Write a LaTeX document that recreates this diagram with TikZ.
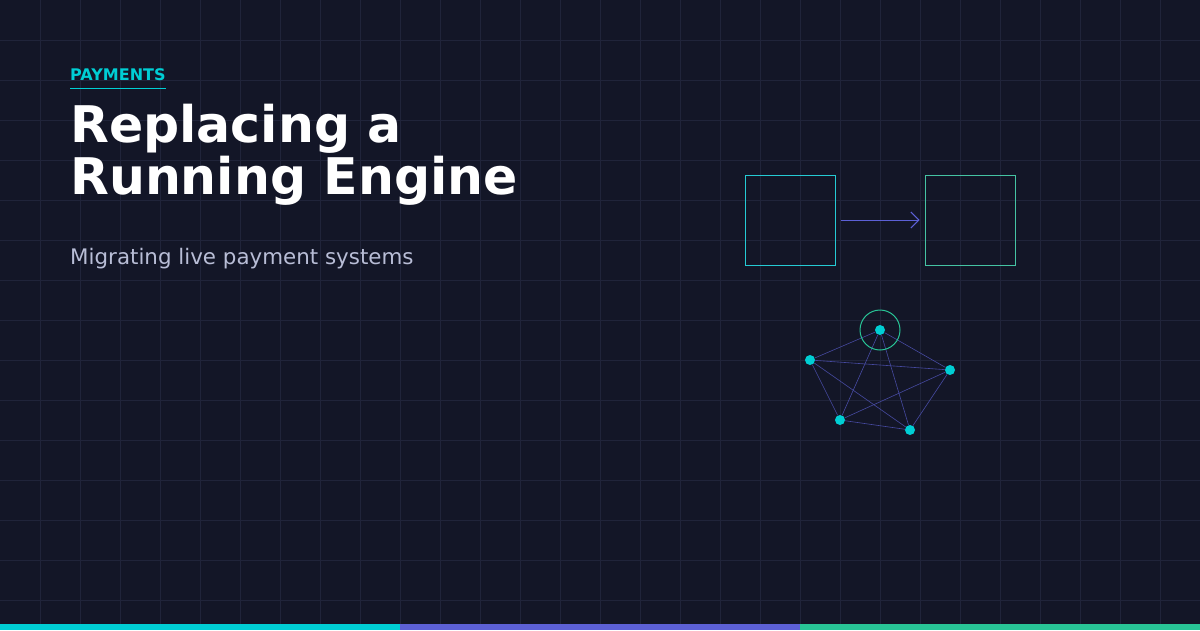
\documentclass[tikz,border=0pt]{standalone}
\usepackage{fontspec}
\setmainfont{DejaVu Sans}
\usetikzlibrary{calc}
\usetikzlibrary{positioning}
\usetikzlibrary{arrows.meta}
\definecolor{night}{RGB}{19, 22, 39}
\definecolor{gridline}{RGB}{32, 36, 58}
\definecolor{aqua}{RGB}{0, 206, 212}
\definecolor{indigo}{RGB}{92, 96, 214}
\definecolor{jade}{RGB}{40, 196, 150}
\definecolor{mist}{RGB}{184, 189, 214}
\tikzset{
  peer/.style={circle, fill=aqua, inner sep=0pt, minimum size=10pt},
  link/.style={indigo!70!night, line width=0.6pt},
  stage/.style={draw, line width=1pt, minimum size=90pt, inner sep=0pt}
}

\begin{document}
\begin{tikzpicture}[x=1pt, y=-1pt]
            \fill[night] (0,0) rectangle (1200,630);
            \useasboundingbox (0,0) rectangle (1200,630);
            \foreach \gx in {40,80,...,1160} \draw[gridline, line width=1pt] (\gx,0) -- (\gx,630);
            \foreach \gy in {40,80,...,600} \draw[gridline, line width=1pt] (0,\gy) -- (1200,\gy);
            % bottom bar
            \fill[aqua]   (0,624)   rectangle (400,630);
            \fill[indigo] (400,624) rectangle (800,630);
            \fill[jade]   (800,624) rectangle (1200,630);
            % headline
            \node[anchor=base west, inner sep=0pt, text=aqua, font=\bfseries\fontsize{16}{18}\selectfont] (tag) at (70,80) {PAYMENTS};
            \draw[aqua, line width=1pt] ($(tag.south west)+(0,8)$) coordinate (ul) -- (ul -| tag.south east);
            \node[anchor=base west, inner sep=0pt, text=white, font=\bfseries\fontsize{50.5}{52}\selectfont] (line1) at (70,142) {Replacing a};
            \node[anchor=base west, inner sep=0pt, text=white, font=\bfseries\fontsize{50.5}{52}\selectfont] (line2) at (70,194) {Running Engine};
            \node[anchor=base west, inner sep=0pt, text=mist, font=\fontsize{21.4}{24}\selectfont] (sub) at (70,264) {Migrating live payment systems};
            % old and new engine
            \node[stage, draw=aqua!80!mist]  (old) at (790,220) {};
            \node[stage, draw=jade!80!mist]  (new) at (970,220) {};
            \draw[indigo, line width=1pt, -{Straight Barb[length=8pt, width=16pt]}] ($(old.east)+(5,0)$) -- ($(new.west)+(-5,0)$);
            % peers
            \node[peer] (p1) at (880,330) {};
            \node[peer] (p2) at (810,360) {};
            \node[peer] (p3) at (950,370) {};
            \node[peer] (p4) at (840,420) {};
            \node[peer] (p5) at (910,430) {};
            \foreach \i/\j in {p1/p2,p1/p3,p1/p4,p1/p5,p2/p3,p2/p4,p2/p5,p3/p4,p3/p5,p4/p5}
                \draw[link] (\i) -- (\j);
            \draw[jade, line width=1pt] (p1) circle (20);
\end{tikzpicture}
\end{document}
